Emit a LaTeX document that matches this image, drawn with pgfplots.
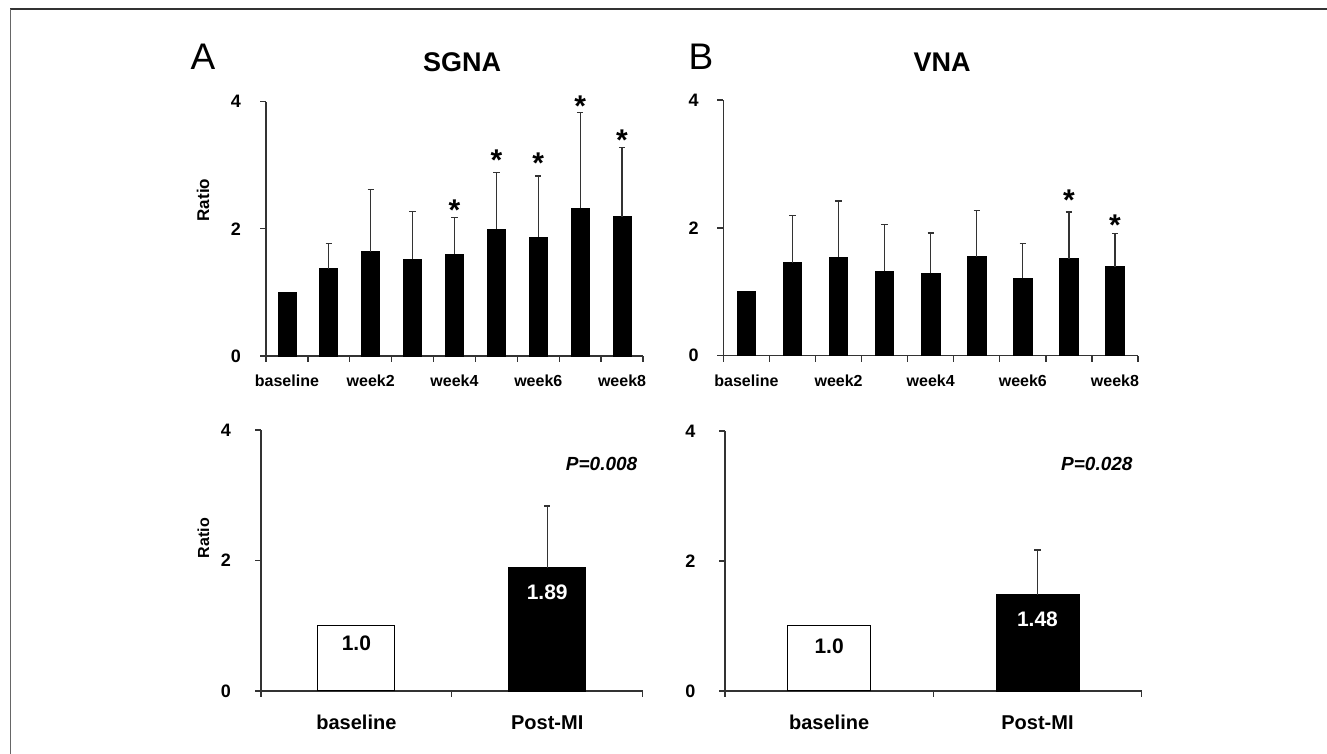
\documentclass[border=0pt]{standalone}
\usepackage{fontspec}
\setmainfont{Liberation Sans}
\usepackage{pgfplots}
\usepackage{pgfplotstable}
\pgfplotsset{compat=1.18}

% x  mean  sd(upper)
\pgfplotstableread{
x y e
0 1.00 0
1 1.37 0.40
2 1.64 0.98
3 1.52 0.75
4 1.60 0.58
5 1.99 0.90
6 1.87 0.96
7 2.32 1.51
8 2.19 1.09
}\sgna
\pgfplotstableread{
x y e
0 1.00 0
1 1.455 0.735
2 1.54 0.88
3 1.32 0.73
4 1.29 0.63
5 1.55 0.72
6 1.21 0.55
7 1.52 0.73
8 1.39 0.52
}\vna
% asterisk positions
\pgfplotstableread{
x s
4 2.40
5 3.19
6 3.135
7 4.03
8 3.49
}\sgnastar
\pgfplotstableread{
x s
7 2.54
8 2.14
}\vnastar

\pgfplotsset{
  panel/.style={
    scale only axis, axis x line*=bottom, axis y line*=left,
    axis line style={black!80, line width=0.65pt},
    tick style={black!80, line width=0.65pt}, tick align=outside, major tick length=3pt,
    ymin=0, ymax=4, ytick={0,2,4},
    /pgf/number format/assume math mode=true,
    yticklabel style={font=\bfseries\fontsize{9}{10}\selectfont, anchor=east, inner sep=0pt},
    clip=false,
  },
  err/.style={/pgfplots/error bars/y dir=plus, /pgfplots/error bars/y explicit,
    /pgfplots/error bars/error bar style={black!80, line width=0.6pt},
    /pgfplots/error bars/error mark options={rotate=90, black!80, line width=0.6pt, mark size=1.6pt}},
  star/.style={draw=none, nodes near coords={*},
    every node near coord/.append style={font=\bfseries\fontsize{15}{16}\selectfont, anchor=center, yshift=-3.3pt, inner sep=0pt}},
}

\begin{document}
\begin{tikzpicture}
\path[use as bounding box] (0,0) rectangle (663.5pt,377pt);
\draw[black!80, line width=0.75pt] (5pt,372.5pt) -- (663.5pt,372.5pt);
\draw[black!60, line width=0.75pt] (5.25pt,372.5pt) -- (5.25pt,0pt);

\node[font=\fontsize{18.5}{22}\selectfont] at (101.5pt,348.6pt) {A};
\node[font=\bfseries\fontsize{13.5}{16}\selectfont] at (231pt,345.8pt) {SGNA};
\node[font=\fontsize{18.5}{22}\selectfont] at (350.5pt,348.6pt) {B};
\node[font=\bfseries\fontsize{13.5}{16}\selectfont] at (471pt,345.8pt) {VNA};

% top left
\begin{axis}[panel, at={(133pt,199pt)}, anchor=south west, width=188.5pt, height=127.2pt,
  xmin=-0.5, xmax=8.5, xtick={-0.5,0.5,...,8.5}, xticklabels={},
  extra x ticks={0,2,4,6,8}, extra x tick labels={baseline,week2,week4,week6,week8},
  extra x tick style={major tick length=0pt},
  xticklabel style={font=\bfseries\fontsize{8}{9.6}\selectfont, anchor=base, yshift=-15.3pt},
  yticklabel style={xshift=-9.35pt},
  ylabel={Ratio}, ylabel style={font=\bfseries\fontsize{8.5}{10}\selectfont, at={(axis description cs:-0.167,0.613)}, anchor=center}]
\addplot[ybar, bar width=9pt, fill=black, draw=black] table[x=x, y=y, skip coords between index={1}{9}] {\sgna};
\addplot[ybar, bar width=9pt, fill=black, draw=black, err] table[x=x, y=y, y error=e, skip coords between index={0}{1}] {\sgna};
\addplot[star] table[x=x, y=s] {\sgnastar};
\end{axis}

% top right
\begin{axis}[panel, at={(361.7pt,199.15pt)}, anchor=south west, width=207.3pt, height=127.8pt,
  xmin=-0.5, xmax=8.5, xtick={-0.5,0.5,...,8.5}, xticklabels={},
  extra x ticks={0,2,4,6,8}, extra x tick labels={baseline,week2,week4,week6,week8},
  extra x tick style={major tick length=0pt},
  xticklabel style={font=\bfseries\fontsize{8}{9.6}\selectfont, anchor=base, yshift=-15.3pt},
  yticklabel style={xshift=-9.2pt}]
\addplot[ybar, bar width=9.2pt, fill=black, draw=black] table[x=x, y=y, skip coords between index={1}{9}] {\vna};
\addplot[ybar, bar width=9.2pt, fill=black, draw=black, err] table[x=x, y=y, y error=e, skip coords between index={0}{1}] {\vna};
\addplot[star] table[x=x, y=s] {\vnastar};
\end{axis}

% bottom left
\begin{axis}[panel, at={(130.5pt,31.5pt)}, anchor=south west, width=190.8pt, height=130.5pt,
  xmin=-0.5, xmax=1.5, xtick={-0.5,0.5,1.5}, xticklabels={},
  extra x ticks={0,1}, extra x tick labels={baseline,Post-MI},
  extra x tick style={major tick length=0pt},
  xticklabel style={font=\bfseries\fontsize{10}{12}\selectfont, anchor=base, yshift=-19.5pt},
  yticklabel style={xshift=-11.8pt},
  ylabel={Ratio}, ylabel style={font=\bfseries\fontsize{8}{10}\selectfont, at={(axis description cs:-0.151,0.586)}, anchor=center}]
\addplot[ybar, bar width=38.5pt, fill=white, draw=black, line width=0.5pt,
  nodes near coords={1.0}, every node near coord/.append style={font=\bfseries\fontsize{10.5}{12}\selectfont, anchor=center, yshift=-8.7pt}]
  coordinates {(0,1.0)};
\addplot[ybar, bar width=38.5pt, fill=black, draw=black, err,
  nodes near coords={1.89}, every node near coord/.append style={font=\bfseries\fontsize{10.5}{12}\selectfont, text=white, anchor=center, yshift=-12.5pt}]
  coordinates {(1,1.89) +- (0,0.945)};
\node[font=\bfseries\itshape\fontsize{9.5}{11}\selectfont] at (axis cs:1.285,3.48) {P=0.008};
\end{axis}

% bottom right
\begin{axis}[panel, at={(362.5pt,31.5pt)}, anchor=south west, width=208.3pt, height=130pt,
  xmin=-0.5, xmax=1.5, xtick={-0.5,0.5,1.5}, xticklabels={},
  extra x ticks={0,1}, extra x tick labels={baseline,Post-MI},
  extra x tick style={major tick length=0pt},
  xticklabel style={font=\bfseries\fontsize{10}{12}\selectfont, anchor=base, yshift=-19.5pt},
  yticklabel style={xshift=-11.6pt}]
\addplot[ybar, bar width=41.5pt, fill=white, draw=black, line width=0.5pt,
  nodes near coords={1.0}, every node near coord/.append style={font=\bfseries\fontsize{10.5}{12}\selectfont, anchor=center, yshift=-10.2pt}]
  coordinates {(0,1.0)};
\addplot[ybar, bar width=41.5pt, fill=black, draw=black, err,
  nodes near coords={1.48}, every node near coord/.append style={font=\bfseries\fontsize{10.5}{12}\selectfont, text=white, anchor=center, yshift=-12.2pt}]
  coordinates {(1,1.48) +- (0,0.69)};
\node[font=\bfseries\itshape\fontsize{9.5}{11}\selectfont] at (axis cs:1.285,3.49) {P=0.028};
\end{axis}
\end{tikzpicture}
\end{document}
